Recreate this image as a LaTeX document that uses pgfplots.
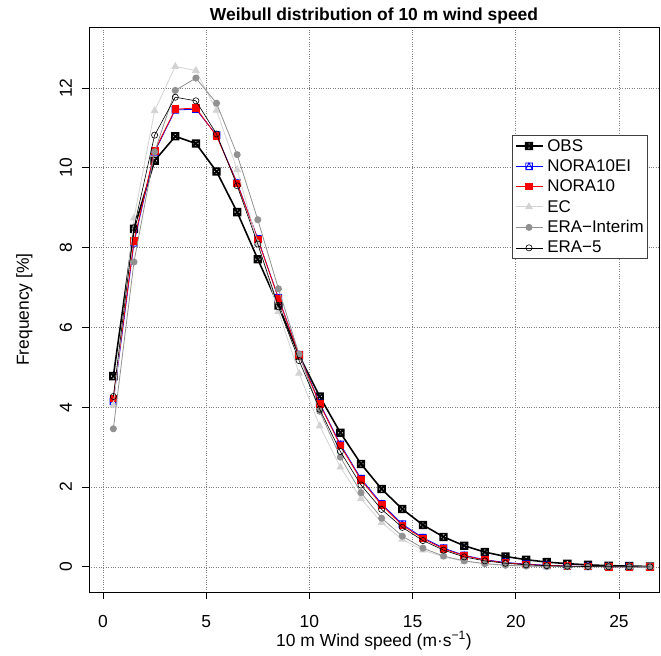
\documentclass[border=0pt]{standalone}
\usepackage{fontspec}
\setmainfont{Liberation Sans}
\usepackage{pgfplots}
\pgfplotsset{compat=1.18}

\definecolor{ecgray}{HTML}{D3D3D3}
\definecolor{eragray}{HTML}{919191}

% R pch 7: square with a cross
\pgfdeclareplotmark{boxx}{%
  \pgfpathrectangle{\pgfpoint{-\pgfplotmarksize}{-\pgfplotmarksize}}{\pgfpoint{2\pgfplotmarksize}{2\pgfplotmarksize}}%
  \pgfpathmoveto{\pgfpoint{-\pgfplotmarksize}{-\pgfplotmarksize}}%
  \pgfpathlineto{\pgfpoint{\pgfplotmarksize}{\pgfplotmarksize}}%
  \pgfpathmoveto{\pgfpoint{-\pgfplotmarksize}{\pgfplotmarksize}}%
  \pgfpathlineto{\pgfpoint{\pgfplotmarksize}{-\pgfplotmarksize}}%
  \pgfusepathqstroke}
% R pch 14: square with a triangle
\pgfdeclareplotmark{boxtri}{%
  \pgfpathrectangle{\pgfpoint{-\pgfplotmarksize}{-\pgfplotmarksize}}{\pgfpoint{2\pgfplotmarksize}{2\pgfplotmarksize}}%
  \pgfpathmoveto{\pgfpoint{-\pgfplotmarksize}{-\pgfplotmarksize}}%
  \pgfpathlineto{\pgfpoint{0pt}{\pgfplotmarksize}}%
  \pgfpathlineto{\pgfpoint{\pgfplotmarksize}{-\pgfplotmarksize}}%
  \pgfusepathqstroke}

\pgfplotstableread{
x    obs   nei    nora   ec     erai   era5
0.5  4.78  4.15   4.22   4.05   3.46   4.27
1.5  8.47  8.12   8.17   8.74   7.64   8.50
2.5  10.18 10.40  10.43  11.43  10.40  10.82
3.5  10.79 11.45  11.47  12.54  11.94  11.77
4.5  10.61 11.47  11.50  12.44  12.25  11.68
5.5  9.91  10.82  10.80  11.44  11.62  10.85
6.5  8.89  9.62   9.61   9.95   10.33  9.55
7.5  7.71  8.22   8.21   8.10   8.70   8.09
8.5  6.55  6.74   6.73   6.40   6.97   6.52
9.5  5.30  5.32   5.31   4.85   5.33   5.17
10.5 4.27  4.10   4.08   3.53   3.90   3.95
11.5 3.36  3.07   3.04   2.50   2.75   2.89
12.5 2.58  2.21   2.18   1.71   1.86   2.05
13.5 1.95  1.58   1.55   1.11   1.22   1.44
14.5 1.45  1.07   1.04   0.69   0.77   0.99
15.5 1.05  0.73   0.71   0.42   0.47   0.66
16.5 0.75  0.47   0.45   0.25   0.27   0.42
17.5 0.53  0.29   0.28   0.14   0.15   0.25
18.5 0.37  0.18   0.17   0.08   0.08   0.15
19.5 0.26  0.11   0.10   0.04   0.04   0.09
20.5 0.18  0.07   0.06   0.02   0.02   0.05
21.5 0.12  0.04   0.035  0.01   0.01   0.03
22.5 0.08  0.02   0.02   0.005  0.005  0.015
23.5 0.05  0.01   0.01   0.002  0.002  0.008
24.5 0.03  0.006  0.005  0.001  0.001  0.004
25.5 0.02  0.003  0.003  0.0    0.0    0.002
26.5 0.01  0.002  0.002  0.0    0.0    0.001
}\wind

\begin{document}
\begin{tikzpicture}
\path[use as bounding box] (-89bp,-64bp) rectangle (572bp,592bp);
\begin{axis}[
    at={(0,0)}, anchor=south west,
    scale only axis,
    width=570bp, height=565bp,
    xmin=-0.68, xmax=26.94,
    ymin=-0.63, ymax=13.53,
    xtick={0,5,...,25},
    ytick={0,2,...,12},
    xticklabels={}, yticklabels={},
    xtick pos=left, ytick pos=left,
    tick align=outside,
    major tick length=7bp,
    tick style={black, line width=0.8bp},
    axis line style={line width=0.9bp},
    grid=major,
    grid style={dotted, gray, line width=0.7bp},
    clip mode=individual,
    title={\bfseries Weibull distribution of 10 m wind speed},
    title style={at={(axis description cs:0.5,1)}, anchor=base, yshift=1bp,
                 font=\fontsize{17.5}{20}\selectfont},
    xlabel={10 m Wind speed (m·s\textsuperscript{−1})},
    xlabel style={at={(axis description cs:0.5,0)}, anchor=base, yshift=-54bp,
                  font=\fontsize{17.5}{20}\selectfont},
    ylabel={Frequency [\%]},
    ylabel style={at={(axis description cs:0,0.5)}, anchor=base, yshift=60bp,
                  font=\fontsize{17.5}{20}\selectfont},
    legend style={at={(0.981,0.809)}, anchor=north east,
                  draw=black!75, line width=0.8bp,
                  font=\fontsize{17}{18}\selectfont,
                  row sep=3bp, inner xsep=2bp,
                  /tikz/every odd column/.append style={column sep=2bp}},
    legend cell align=left,
    legend image code/.code={%
      \draw[mark repeat=2,mark phase=2] plot coordinates {(0bp,0bp) (13.5bp,0bp) (27bp,0bp)};},
]
\addplot[black, line width=1.6bp, mark=boxx, mark size=3.3bp,
         mark options={solid, line width=1.7bp}] table[x=x, y=obs] {\wind};
\addplot[blue, line width=0.8bp, mark=boxtri, mark size=3.3bp,
         mark options={solid, line width=0.9bp}] table[x=x, y=nei] {\wind};
\addplot[red, line width=0.8bp, mark=square*, mark size=3.3bp,
         mark options={solid}] table[x=x, y=nora] {\wind};
\addplot[ecgray, line width=0.8bp, mark=triangle*, mark size=3.8bp,
         mark options={solid}] table[x=x, y=ec] {\wind};
\addplot[eragray, line width=0.8bp, mark=*, mark size=3.1bp,
         mark options={solid}] table[x=x, y=erai] {\wind};
\addplot[black, line width=0.6bp, mark=o, mark size=3.1bp,
         mark options={solid}] table[x=x, y=era5] {\wind};
\legend{OBS, NORA10EI, NORA10, EC, ERA−Interim, ERA−5}
% tick numbers set as in R: below the x axis, on their side at the y axis
\pgfplotsinvokeforeach{0,5,10,15,20,25}{
  \node[anchor=base, font=\fontsize{17.5}{20}\selectfont]
    at ([yshift=-35bp]axis cs:#1,-0.63) {#1};}
\pgfplotsinvokeforeach{0,2,4,6,8,10,12}{
  \node[anchor=base, rotate=90, font=\fontsize{17.5}{20}\selectfont]
    at ([xshift=-17bp]axis cs:-0.68,#1) {#1};}
\end{axis}
\end{tikzpicture}
\end{document}
